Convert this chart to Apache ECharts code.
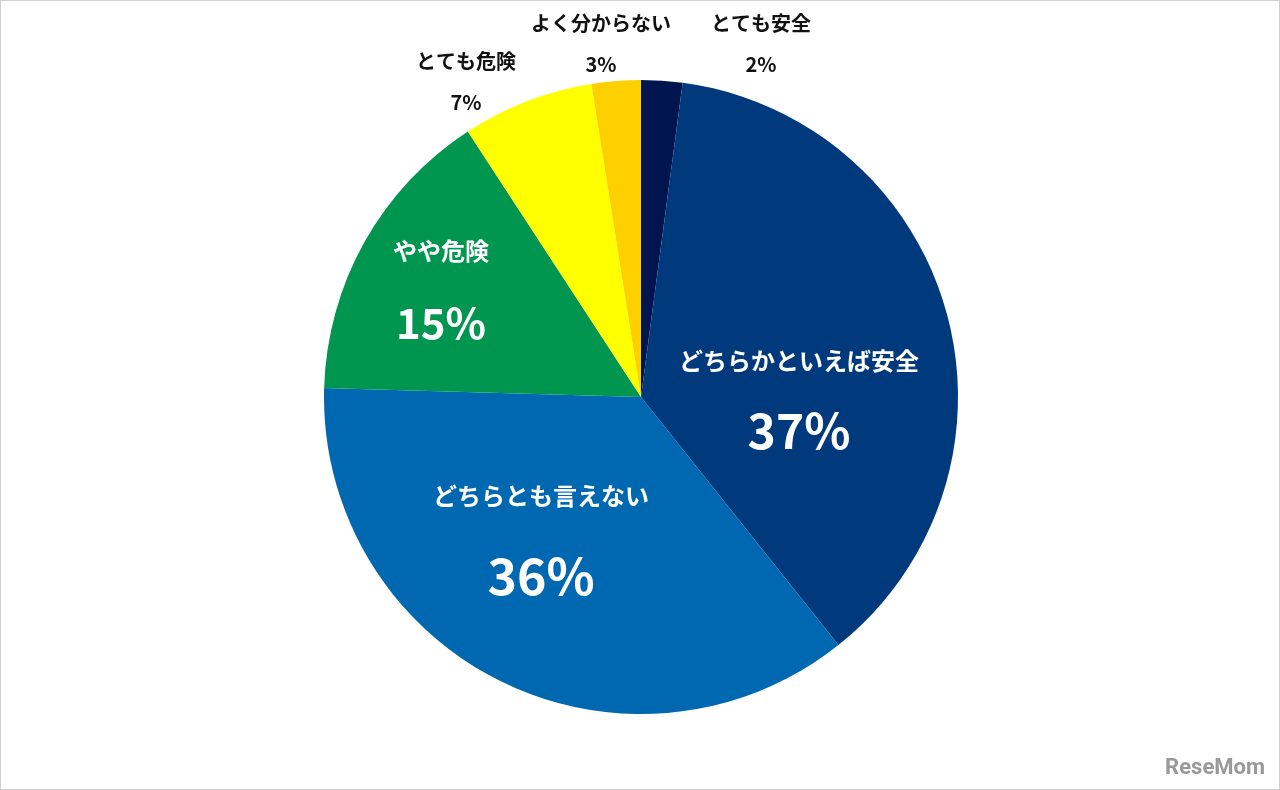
<!DOCTYPE html>
<html><head><meta charset="utf-8">
<script src="https://cdn.jsdelivr.net/npm/echarts@6/dist/echarts.min.js"></script>
<style>html,body{margin:0;padding:0;background:#fff}#c{width:1278px;height:788px;border:1px solid #d0d0d0}</style>
</head><body><div id="c"></div>
<script>
const categories=['とても安全','どちらかといえば安全','どちらとも言えない','やや危険','とても危険','よく分からない'];
const values=[2.1,37.2,36.15,15.35,6.7,2.5];
const labels=['2%','37%','36%','15%','7%','3%'];
const colors=['#001550','#003a7d','#0068b0','#009650','#ffff00','#ffd000'];
const inside=[false,true,true,true,false,false];
const labelPos=[[760,43],[798,395],[540,535],[440,286],[465,81],[600,43]];
const bigSize=[0,48,50,42,0,0];
const gap=[0,70,80,72,0,0];
const chart=echarts.init(document.getElementById('c'));
chart.setOption({
  animation:false,
  textStyle:{fontFamily:'Noto Sans CJK JP'},
  graphic:[{type:'text',right:14,bottom:10,style:{text:'ReseMom',fontSize:22,fontWeight:'bold',fill:'#999',fontFamily:'Roboto'}}],
  series:[{
    type:'pie',center:[640,396],radius:317,startAngle:90,clockwise:true,
    labelLine:{show:false},
    data:categories.map((n,i)=>({name:n,value:values[i],itemStyle:{color:colors[i]},
      label:inside[i]?{position:'inside',formatter:'{a'+i+'|'+n+'}\n{b'+i+'|'+labels[i]+'}',
        rich:{['a'+i]:{fontSize:24,fontWeight:'bold',color:'#fff',lineHeight:gap[i],fontFamily:'Noto Sans CJK JP'},
              ['b'+i]:{fontSize:bigSize[i],fontWeight:'bold',color:'#fff',fontFamily:'Noto Sans CJK JP',lineHeight:gap[i]}}}
      :{position:'outside',formatter:'{a|'+n+'}\n{a|'+labels[i]+'}',rich:{a:{fontSize:20,fontWeight:'bold',color:'#111',lineHeight:41,fontFamily:'Noto Sans CJK JP'}}}
    })),
    labelLayout:p=>({x:labelPos[p.dataIndex][0],y:labelPos[p.dataIndex][1],align:'center',verticalAlign:'middle'})
  }]
});
</script></body></html>
